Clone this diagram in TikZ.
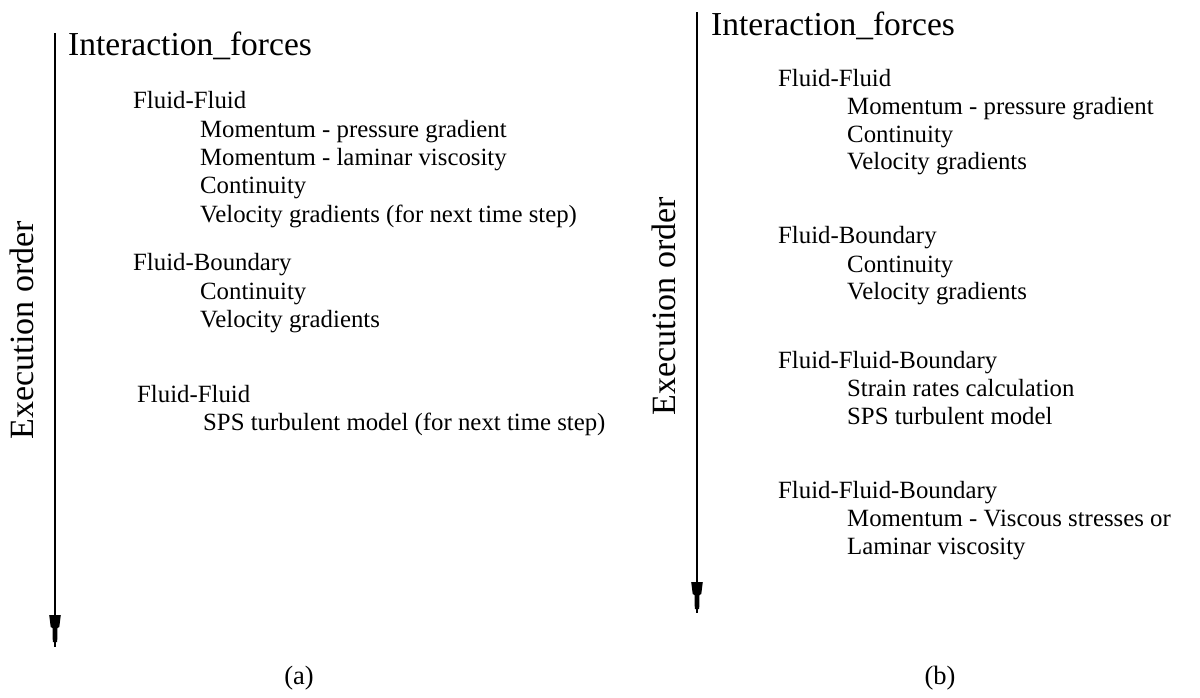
\documentclass[tikz,border=0pt]{standalone}
\usepackage{fontspec}
\setmainfont{Liberation Serif}
\tikzset{
  txt/.style={anchor=base west, inner sep=0pt, font=\fontsize{24.8pt}{30pt}\selectfont},
  ttl/.style={anchor=base west, inner sep=0pt, font=\fontsize{33.5pt}{40pt}\selectfont},
  vlab/.style={anchor=base, inner sep=0pt, rotate=90, font=\fontsize{34pt}{40pt}\selectfont},
  sublabel/.style={anchor=base, inner sep=0pt, font=\fontsize{26.5pt}{30pt}\selectfont},
  axis/.style={line width=1.4pt, black},
  headfill/.style={fill=black, draw=none}
}
\begin{document}
\begin{tikzpicture}[x=1pt,y=-1pt]
\useasboundingbox (0,0) rectangle (1200,697);
% ---------- (a) ----------
\coordinate (aTop) at (55,33);
\coordinate (aBot) at (55,647);
\draw[axis] (aTop) -- (aBot);
\fill[headfill,shift={(55,615)}] (-5.8,0) -- (5.8,0) -- (4.3,12) -- (2.5,13) -- (2.2,27) -- (-2.2,27) -- (-2.5,13) -- (-4.3,12) -- cycle;
\node[vlab] (aExec) at (33,330) {Execution order};
\node[ttl] (aT) at (68,55) {Interaction\_forces};
\node[txt] (a1) at (133,108) {Fluid-Fluid};
\node[txt] (a2) at (200,137) {Momentum - pressure gradient};
\node[txt] (a3) at (200,165) {Momentum - laminar viscosity};
\node[txt] (a4) at (200,193) {Continuity};
\node[txt] (a5) at (200,222) {Velocity gradients (for next time step)};
\node[txt] (a6) at (133,270) {Fluid-Boundary};
\node[txt] (a7) at (200,299) {Continuity};
\node[txt] (a8) at (200,327) {Velocity gradients};
\node[txt] (a9) at (137,402) {Fluid-Fluid};
\node[txt] (a10) at (203,430) {SPS turbulent model (for next time step)};
\node[sublabel] (capA) at (299,684) {(a)};
% ---------- (b) ----------
\coordinate (bTop) at (697,12);
\coordinate (bBot) at (697,613);
\draw[axis] (bTop) -- (bBot);
\fill[headfill,shift={(697,582)}] (-5.8,0) -- (5.8,0) -- (4.3,12) -- (2.5,13) -- (2.2,27) -- (-2.2,27) -- (-2.5,13) -- (-4.3,12) -- cycle;
\node[vlab] (bExec) at (675,306) {Execution order};
\node[ttl] (bT) at (711,35) {Interaction\_forces};
\node[txt] (b1) at (778,86) {Fluid-Fluid};
\node[txt] (b2) at (847,114) {Momentum - pressure gradient};
\node[txt] (b3) at (847,142) {Continuity};
\node[txt] (b4) at (847,169) {Velocity gradients};
\node[txt] (b5) at (778,243) {Fluid-Boundary};
\node[txt] (b6) at (847,272) {Continuity};
\node[txt] (b7) at (847,299) {Velocity gradients};
\node[txt] (b8) at (778,368) {Fluid-Fluid-Boundary};
\node[txt] (b9) at (847,396) {Strain rates calculation};
\node[txt] (b10) at (847,424) {SPS turbulent model};
\node[txt] (b11) at (778,498) {Fluid-Fluid-Boundary};
\node[txt] (b12) at (847,526) {Momentum - Viscous stresses or};
\node[txt] (b13) at (847,554) {Laminar viscosity};
\node[sublabel] (capB) at (940,684) {(b)};
\end{tikzpicture}
\end{document}
